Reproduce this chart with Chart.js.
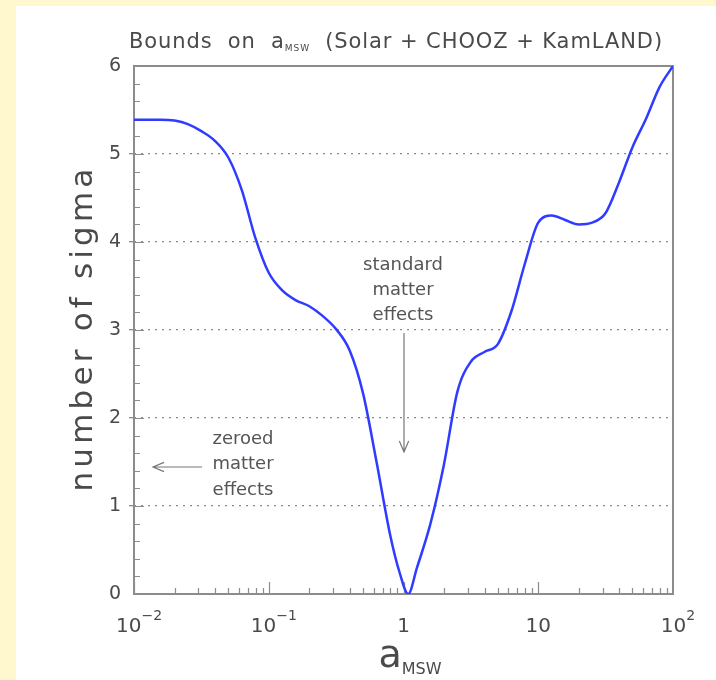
<!DOCTYPE html>
<html>
<head>
<meta charset="utf-8">
<script src="https://cdn.jsdelivr.net/npm/chart.js@4.4.1/dist/chart.umd.min.js"></script>
<style>
  html, body { margin: 0; padding: 0; background: #fff8cf; }
  body { width: 716px; height: 680px; position: relative; overflow: hidden; }
  #panel { position: absolute; left: 16px; top: 6px; width: 700px; height: 674px; background: #fff; }
</style>
</head>
<body>
<div id="panel"><canvas id="sigma-chart" width="700" height="674"></canvas></div>
<script>
// data (a_MSW, number of sigma)
const aValues = [0.01, 0.0126, 0.0158, 0.0200, 0.0251, 0.0316, 0.0398, 0.0501, 0.0631, 0.0794,
    0.1, 0.126, 0.158, 0.200, 0.251, 0.316, 0.398, 0.501, 0.631, 0.794,
    0.933, 1.084, 1.259, 1.585, 1.995, 2.512, 3.162, 3.981, 5.012, 6.310,
    7.943, 10, 12.59, 15.85, 19.95, 25.12, 31.62, 39.81, 50.12, 63.10,
    79.43, 100];
const sigma = [5.39, 5.39, 5.39, 5.38, 5.34, 5.26, 5.15, 4.96, 4.59, 4.05,
    3.65, 3.45, 3.34, 3.27, 3.16, 3.01, 2.77, 2.28, 1.50, 0.68,
    0.25, 0.00, 0.30, 0.80, 1.47, 2.30, 2.64, 2.75, 2.84, 3.21,
    3.75, 4.22, 4.30, 4.25, 4.20, 4.22, 4.33, 4.68, 5.08, 5.40,
    5.76, 6.00];
const xTickValues = [0.01, 0.1, 1, 10, 100];
const xTickBase = ['10', '10', '1', '10', '10'];
const xTickExp = ['\u22122', '\u22121', '', '', '2'];

const FONT = "'DejaVu Sans', sans-serif";
const TEXT = '#4a4a4a';
const FRAME = '#8c8c8c';

// draws runs of text [str, size, dy] as one line, stretched to a width
function drawRuns(ctx, runs, cx, y, target) {
    ctx.letterSpacing = '0px';
    let w0 = 0, n = 0;
    runs.forEach(r => { ctx.font = r[1] + 'px ' + FONT; w0 += ctx.measureText(r[0]).width; n += r[0].length; });
    const sp = target ? (target - w0) / n : 0;
    ctx.letterSpacing = sp + 'px';
    let x = cx - (w0 + sp * n) / 2;
    ctx.textAlign = 'left';
    runs.forEach(r => {
        ctx.font = r[1] + 'px ' + FONT;
        ctx.fillText(r[0], x, y + r[2]);
        x += ctx.measureText(r[0]).width;
    });
    ctx.letterSpacing = '0px';
}

function arrow(ctx, x1, y1, x2, y2) {
    const ang = Math.atan2(y2 - y1, x2 - x1);
    ctx.beginPath();
    ctx.moveTo(x1, y1); ctx.lineTo(x2, y2);
    ctx.moveTo(x2 - 12 * Math.cos(ang - 0.4), y2 - 12 * Math.sin(ang - 0.4));
    ctx.lineTo(x2, y2);
    ctx.lineTo(x2 - 12 * Math.cos(ang + 0.4), y2 - 12 * Math.sin(ang + 0.4));
    ctx.stroke();
}

const decorations = {
    id: 'decorations',
    beforeDatasetsDraw(chart) {
        const {ctx, chartArea: a, scales: {x, y}} = chart;
        ctx.save();
        ctx.strokeStyle = FRAME;
        ctx.lineWidth = 1.2;
        ctx.beginPath();
        for (let d = -2; d < 2; d++) {
            for (let k = 1; k < 10; k++) {
                const px = Math.round(x.getPixelForValue(k * Math.pow(10, d))) + 0.5;
                const len = k === 1 ? 12 : 6;
                ctx.moveTo(px, a.bottom); ctx.lineTo(px, a.bottom - len);
            }
        }
        for (let i = 1; i < 30; i++) {
            const py = Math.round(y.getPixelForValue(i / 5)) + 0.5;
            const len = i % 5 === 0 ? 10 : 6;
            ctx.moveTo(a.left, py); ctx.lineTo(a.left + len, py);
        }
        ctx.stroke();
        ctx.lineWidth = 2;
        ctx.strokeRect(a.left, a.top, a.right - a.left, a.bottom - a.top);
        ctx.restore();
    },
    afterDraw(chart) {
        const {ctx, scales: {x}} = chart;
        ctx.save();
        ctx.fillStyle = TEXT;
        ctx.textBaseline = 'alphabetic';

        // title
        drawRuns(ctx, [['Bounds  on  a', 21, 0], ['MSW', 9, 3],
            ['  (Solar + CHOOZ + KamLAND)', 21, 0]], 380, 42, 534);

        // x tick labels
        xTickValues.forEach((v, i) => {
            const px = x.getPixelForValue(v);
            const runs = [[xTickBase[i], 20, 0]];
            if (xTickExp[i]) runs.push([xTickExp[i], 14, -12]);
            drawRuns(ctx, runs, xTickExp[i] ? px + 5 : px, 626, 0);
        });

        // x title
        drawRuns(ctx, [['a', 38, 0], ['MSW', 16, 7]], 394, 661, 0);

        // y title
        ctx.save();
        ctx.translate(76, 322);
        ctx.rotate(-Math.PI / 2);
        drawRuns(ctx, [['number of sigma', 31, 0]], 0, 0, 327);
        ctx.restore();

        // annotations
        ctx.fillStyle = '#555';
        ctx.textBaseline = 'middle';
        ['standard', 'matter', 'effects'].forEach((t, i) => {
            drawRuns(ctx, [[t, 18, 0]], 387, 259 + i * 25, 0);
        });
        ['zeroed', 'matter', 'effects'].forEach((t, i) => {
            drawRuns(ctx, [[t, 18, 0]], 227, 433 + i * 25.5, 0);
        });
        ctx.strokeStyle = '#777';
        ctx.lineWidth = 1.2;
        arrow(ctx, 388, 327, 388, 446);
        arrow(ctx, 186, 461, 137, 461);
        ctx.restore();
    }
};

const config = {
    type: 'scatter',
    data: {
        datasets: [{
            data: aValues.map((v, i) => ({x: v, y: sigma[i]})),
            showLine: true,
            borderColor: '#2f3cff',
            borderWidth: 2.5,
            pointRadius: 0,
            cubicInterpolationMode: 'monotone',
            fill: false
        }]
    },
    options: {
        responsive: false,
        animation: false,
        layout: {
            padding: {top: 60, right: 43, left: 0, bottom: 0}
        },
        plugins: {
            legend: {display: false},
            tooltip: {enabled: false}
        },
        scales: {
            x: {
                type: 'logarithmic',
                min: 0.01,
                max: 100,
                grid: {display: false, drawTicks: false},
                border: {display: false},
                ticks: {display: false},
                afterFit: (s) => { s.height = 86; }
            },
            y: {
                min: 0,
                max: 6,
                ticks: {
                    stepSize: 1,
                    padding: 8,
                    color: TEXT,
                    font: {family: FONT, size: 19}
                },
                grid: {
                    color: (c) => (c.tick.value === 0 || c.tick.value === 6) ? 'rgba(0,0,0,0)' : '#8a8a8a',
                    lineWidth: 1.3,
                    tickLength: 5
                },
                border: {display: false, dash: [2, 5]},
                afterFit: (s) => { s.width = 118; }
            }
        }
    },
    plugins: [decorations]
};

const sigmaChart = new Chart(document.getElementById('sigma-chart'), config);
</script>
</body>
</html>
